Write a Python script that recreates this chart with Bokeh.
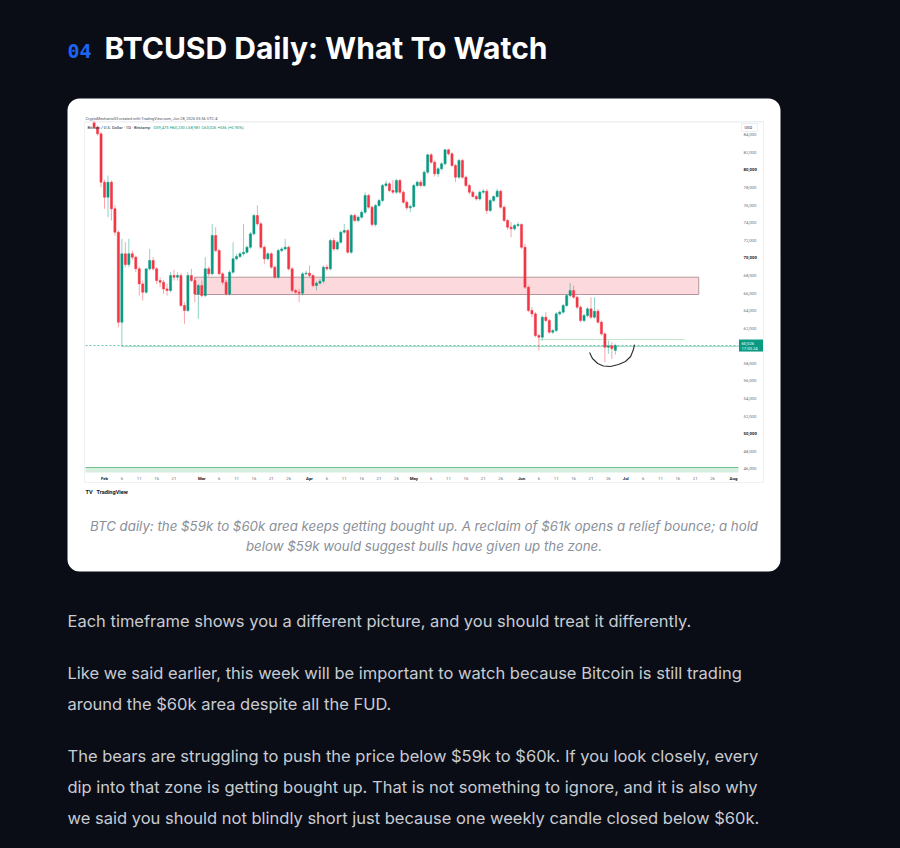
import pandas as pd
from bokeh.plotting import figure
from bokeh.models import Range1d, BoxAnnotation, ColumnDataSource
from bokeh.core.properties import value
from bokeh.embed import file_html
from bokeh.resources import INLINE

# ---------------- data ----------------
first_date = "2026-01-29"
open_ = [85440, 84870, 84110, 78610, 76900, 78610, 75580, 72920, 62680, 70460,
         69240, 70460, 70080, 68750, 67040, 66090, 68750, 69700, 68750, 67420,
         67230, 66470, 66280, 67990, 67800, 67990, 64580, 64010, 67990, 67420,
         65900, 66850, 65710, 68750, 68180, 72540, 70830, 68180, 67230, 65900,
         68370, 69890, 70150, 70460, 70640, 71210, 72730, 74820, 73870, 71210,
         69890, 70460, 68940, 67800, 70830, 71020, 71210, 68750, 66280, 66090,
         65980, 68180, 68260, 67990, 66850, 67120, 67340, 68940, 68750, 71970,
         71020, 71780, 72920, 73110, 70640, 74820, 74250, 74630, 75200, 77090,
         75770, 73790, 75960, 76520, 78230, 78420, 77660, 77470, 78800, 77470,
         76330, 75690, 75840, 78230, 78610, 78230, 79750, 81720, 80890, 79560,
         80130, 80700, 82290, 81830, 80510, 79180, 81080, 79180, 78230, 77470,
         76980, 76710, 77470, 77590, 75390, 76520, 76980, 77590, 75770, 74250,
         73490, 73300, 73680, 73790, 71210, 66660, 64010, 63630, 61160, 60970,
         63250, 62870, 61540, 61730, 63630, 63820, 64580, 65710, 66280, 65520,
         64390, 62870, 63440, 64200, 63250, 63930, 62680, 61350, 59830, 59990,
         59475]
high = [85630, 85060, 84300, 78880, 79370, 78800, 75960, 73110, 72160, 71780,
        72160, 70830, 70270, 69010, 67420, 66470, 71020, 70080, 68940, 67800,
        67500, 67040, 68370, 68640, 68370, 68260, 64960, 68370, 68750, 67800,
        67040, 67420, 70080, 69010, 73870, 73490, 71020, 68370, 67500, 68560,
        71780, 70460, 70640, 73870, 71400, 72920, 75010, 75960, 74060, 71400,
        70640, 70640, 69130, 71020, 71210, 72160, 71400, 68940, 66470, 66470,
        68370, 68560, 69130, 68180, 67340, 67610, 69130, 69240, 72160, 72280,
        71970, 73110, 73870, 73300, 75010, 75010, 74820, 75390, 77470, 77280,
        75960, 76140, 76710, 78420, 78800, 78610, 78880, 78990, 78990, 77660,
        76520, 76070, 78420, 78800, 78880, 79940, 81830, 81910, 81080, 80320,
        80890, 82400, 82400, 82030, 80700, 81260, 81260, 79370, 78420, 77660,
        77210, 77660, 77850, 77850, 76710, 77090, 77850, 77740, 75960, 74440,
        74060, 73870, 74060, 73940, 71590, 66850, 64390, 63820, 61350, 63440,
        63820, 63060, 61920, 63820, 64010, 64770, 65900, 67120, 66850, 65710,
        64580, 63630, 64390, 65520, 65520, 64200, 62870, 61540, 60590, 60400,
        60230]
low = [84790, 83920, 78040, 75580, 74630, 74250, 72540, 62110, 59910, 68940,
       68940, 69770, 68370, 65710, 65140, 65900, 68560, 68560, 67040, 66660,
       65900, 65710, 66090, 67420, 67420, 64390, 62490, 63820, 67230, 64960,
       63060, 65520, 65520, 67880, 67990, 70640, 67990, 66970, 65710, 65710,
       68180, 69700, 70000, 70270, 70460, 71020, 72540, 73680, 71020, 69320,
       69700, 68750, 67610, 67610, 70640, 70830, 68560, 66090, 65900, 64960,
       65710, 67990, 67800, 66660, 66280, 66970, 67120, 68560, 68560, 70760,
       70830, 71590, 72730, 70460, 70460, 74060, 74060, 74440, 75010, 75580,
       73570, 73570, 75770, 76330, 78040, 77470, 77280, 77280, 77280, 76140,
       75460, 75200, 75690, 78040, 78040, 78040, 79560, 80700, 79250, 79180,
       79940, 80510, 81640, 80320, 78610, 78990, 78990, 78040, 77210, 76830,
       76520, 76520, 77280, 75010, 75200, 76330, 76830, 75580, 74060, 73190,
       72350, 73110, 73490, 71020, 66470, 63820, 63250, 60970, 59450, 60590,
       62680, 61350, 61350, 61540, 63440, 63630, 64390, 65520, 65330, 64200,
       62680, 62680, 63250, 63060, 63060, 62490, 61160, 58130, 59080, 58510,
       58981]
close = [84870, 84110, 78610, 76900, 78610, 75580, 72920, 62680, 70460, 69240,
         70460, 70080, 68750, 67040, 66090, 68750, 69700, 68750, 67420, 67230,
         66470, 66280, 67990, 67800, 67990, 64580, 64010, 67990, 67420, 65900,
         66850, 65710, 68750, 68180, 72540, 70830, 68180, 67230, 65900, 68370,
         69890, 70150, 70460, 70640, 71210, 72730, 74820, 73870, 71210, 69890,
         70460, 68940, 67800, 70830, 71020, 71210, 68750, 66280, 66090, 65980,
         68180, 68260, 67990, 66850, 67120, 67340, 68940, 68750, 71970, 71020,
         71780, 72920, 73110, 70640, 74820, 74250, 74630, 75200, 77090, 75770,
         73790, 75960, 76520, 78230, 78420, 77660, 77470, 78800, 77470, 76330,
         75690, 75840, 78230, 78610, 78230, 79750, 81720, 80890, 79560, 80130,
         80700, 82290, 81830, 80510, 79180, 81080, 79180, 78230, 77470, 76980,
         76710, 77470, 77590, 75390, 76520, 76980, 77590, 75770, 74250, 73490,
         73300, 73680, 73790, 71210, 66660, 64010, 63630, 61160, 60970, 63250,
         62870, 61540, 61730, 63630, 63820, 64580, 65710, 66280, 65520, 64390,
         62870, 63440, 64200, 63250, 63930, 62680, 61350, 59830, 59990, 59680,
         60026]

zone_low, zone_high = 65830, 67800
zone_start, zone_end = "2026-02-27", "2026-07-22"
last_price = 60026
ray_level, ray_start = 59910, "2026-02-06"
level_line_price, level_line_start, level_line_end = 60710, "2026-06-06", "2026-07-18"

curve_times = ["2026-06-20 14:00", "2026-06-21 10:00", "2026-06-22 22:00", "2026-06-24 14:00",
               "2026-06-26 14:00", "2026-06-28 22:00", "2026-06-30 22:00", "2026-07-02 10:00",
               "2026-07-03 05:00", "2026-07-03 12:00"]
curve_prices = [59230, 58550, 57980, 57700, 57640, 57870, 58210, 58780, 59570, 60140]

price_ticks = [84000, 82000, 80000, 78000, 76000, 74000, 72000, 70000, 68000, 66000,
               64000, 62000, 58000, 56000, 54000, 52000, 50000, 48000, 46000]
date_ticks = ["2026-02-01", "2026-02-06", "2026-02-11", "2026-02-16", "2026-02-21",
              "2026-03-01", "2026-03-06", "2026-03-11", "2026-03-16", "2026-03-21", "2026-03-26",
              "2026-04-01", "2026-04-06", "2026-04-11", "2026-04-16", "2026-04-21", "2026-04-26",
              "2026-05-01", "2026-05-06", "2026-05-11", "2026-05-16", "2026-05-21", "2026-05-26",
              "2026-06-01", "2026-06-06", "2026-06-11", "2026-06-16", "2026-06-21", "2026-06-26",
              "2026-07-01", "2026-07-06", "2026-07-11", "2026-07-16", "2026-07-21", "2026-07-26",
              "2026-08-01"]
date_labels = ["Feb", "6", "11", "16", "21", "Mar", "6", "11", "16", "21", "26",
               "Apr", "6", "11", "16", "21", "26", "May", "6", "11", "16", "21", "26",
               "Jun", "6", "11", "16", "21", "26", "Jul", "6", "11", "16", "21", "26", "Aug"]

heading_num = "04"
heading = "BTCUSD Daily: What To Watch"
caption = ["BTC daily: the $59k to $60k area keeps getting bought up. A reclaim of $61k opens a relief bounce; a hold",
           "below $59k would suggest bulls have given up the zone."]
paragraphs = ["Each timeframe shows you a different picture, and you should treat it differently.",
              "Like we said earlier, this week will be important to watch because Bitcoin is still trading",
              "around the $60k area despite all the FUD.",
              "The bears are struggling to push the price below $59k to $60k. If you look closely, every",
              "dip into that zone is getting bought up. That is not something to ignore, and it is also why",
              "we said you should not blindly short just because one weekly candle closed below $60k."]
tv_header = "CryptoMechanic03 created with TradingView.com, Jun 28, 2026 03:56 UTC-4"
tv_symbol = "Bitcoin / U.S. Dollar · 1D · Bitstamp"
tv_ohlc = "O59,475  H60,230  L58,981  C60,026  +536 (+0.90%)"

# ---------------- layout constants (page pixels) ----------------
W, H = 900, 848
BG = "#0a0d16"
UP, DOWN = "#089981", "#f23645"
DAY_MS = 86400000.0
FEB1_X, DAY_PX = 104.0, 3.475          # x of Feb 1 candle, pixels per day
REF_Y, REF_P, PX_PER_USD = 134.3, 84000.0, 0.00879
PLOT_L, PLOT_R = 85, 738

def ms(s):
    return pd.Timestamp(s).value / 1e6

feb1 = ms("2026-02-01")
x_date_range = Range1d(feb1 - FEB1_X / DAY_PX * DAY_MS, feb1 + (W - FEB1_X) / DAY_PX * DAY_MS)
def price_at(y):
    return REF_P - (y - REF_Y) / PX_PER_USD
y_price_range = Range1d(price_at(H), price_at(0))

p = figure(width=W, height=H, x_range=Range1d(0, W), y_range=Range1d(H, 0),
           x_axis_type=None, y_axis_type=None, toolbar_location=None,
           output_backend="svg", min_border=0, outline_line_color=None,
           background_fill_color=BG, border_fill_color=BG)
p.extra_x_ranges = {"date": x_date_range}
p.extra_y_ranges = {"price": y_price_range}

# card
p.add_layout(BoxAnnotation(left=67, right=780, top=98, bottom=571, fill_color="white",
                           fill_alpha=1, line_color=None, border_radius=12, level="underlay"))

# chart frame lines
p.quad(left=[84], right=[763], top=[121], bottom=[482], fill_color=None,
       line_color="#f0f1f4", line_width=1)

# zone rectangle
p.quad(left=[ms(zone_start)], right=[ms(zone_end)], top=[zone_high], bottom=[zone_low],
       x_range_name="date", y_range_name="price", fill_color="#f7a1ab", fill_alpha=0.4,
       line_color="#b3979b", line_width=1)

# horizontal ray from the February low, and level line
p.segment(x0=[ms(ray_start)], x1=[x_date_range.start + PLOT_R / DAY_PX * DAY_MS],
          y0=[ray_level], y1=[ray_level], x_range_name="date", y_range_name="price",
          line_color="#a9dcc4", line_width=1)
p.segment(x0=[ms(level_line_start)], x1=[ms(level_line_end)], y0=[level_line_price],
          y1=[level_line_price], x_range_name="date", y_range_name="price",
          line_color="#c2e8cf", line_width=1)

# current price dashed line
p.segment(x0=[PLOT_L], x1=[PLOT_R], y0=[last_price], y1=[last_price], y_range_name="price",
          line_color=UP, line_alpha=0.6, line_width=1, line_dash="2 2")

# candles
dates = pd.date_range(first_date, periods=len(close), freq="D")
xs = [d.value / 1e6 for d in dates]
colors = [UP if c >= o else DOWN for o, c in zip(open_, close)]
src = ColumnDataSource(dict(x=xs, o=open_, h=high, l=low, c=close,
                            top=[max(o, c) for o, c in zip(open_, close)],
                            bot=[min(o, c) for o, c in zip(open_, close)], color=colors))
p.segment(x0="x", x1="x", y0="l", y1="h", source=src, x_range_name="date", y_range_name="price",
          line_color="color", line_alpha=0.45, line_width=1)
p.vbar(x="x", width=DAY_MS * 0.62, top="top", bottom="bot", source=src, x_range_name="date",
       y_range_name="price", fill_color="color", line_color="color", line_width=0.5)

# hand-drawn curve
p.line(x=[ms(t) for t in curve_times], y=curve_prices, x_range_name="date", y_range_name="price",
       line_color="#2b2b2b", line_width=1.1)

# bottom indicator band
p.quad(left=[PLOT_L], right=[PLOT_R], top=[467], bottom=[472], fill_color="#d6eedd",
       line_color=None)
p.segment(x0=[PLOT_L], x1=[PLOT_R], y0=[467], y1=[467], line_color="#6fbf8e", line_width=1)

# price scale labels
tick_txt = [f"{t:,}" for t in price_ticks]
major = [t % 10000 == 0 for t in price_ticks]
p.text(x=[743] * sum(not m for m in major), y=[t for t, m in zip(price_ticks, major) if not m],
       text=[s for s, m in zip(tick_txt, major) if not m], y_range_name="price",
       text_font=value("Roboto"), text_font_size="4.3px", text_color="#6a6d78",
       text_baseline="middle", text_align="left")
p.text(x=[743] * sum(major), y=[t for t, m in zip(price_ticks, major) if m],
       text=[s for s, m in zip(tick_txt, major) if m], y_range_name="price",
       text_font=value("Roboto"), text_font_size="4.3px", text_color="#131722",
       text_font_style="bold", text_baseline="middle", text_align="left")
p.quad(left=[741], right=[757], top=[123], bottom=[131], fill_color="white",
       line_color="#e0e3eb", line_width=0.6)
p.text(x=[744], y=[127], text=["USD"], text_font=value("Roboto"), text_font_size="4px",
       text_color="#131722", text_baseline="middle")

# last price label
p.rect(x=[750.5], y=[last_price], width=24, height=12, height_units="screen",
       y_range_name="price", fill_color=UP, line_color=None)
p.text(x=[741, 741], y=[last_price, last_price], y_offset=[-2.5, 3],
       text=[f"{last_price:,}", "17:03:24"], y_range_name="price",
       text_font=value("Roboto"), text_font_size="4.2px", text_color="white",
       text_baseline="middle")

# time axis labels
month = [not l.isdigit() for l in date_labels]
p.text(x=[ms(d) for d, m in zip(date_ticks, month) if not m], y=[478] * sum(not m for m in month),
       text=[l for l, m in zip(date_labels, month) if not m], x_range_name="date",
       text_font=value("Roboto"), text_font_size="4.3px", text_color="#6a6d78",
       text_baseline="middle", text_align="center")
p.text(x=[ms(d) for d, m in zip(date_ticks, month) if m], y=[478] * sum(month),
       text=[l for l, m in zip(date_labels, month) if m], x_range_name="date",
       text_font=value("Roboto"), text_font_size="4.3px", text_color="#131722",
       text_font_style="bold", text_baseline="middle", text_align="center")

# TradingView header texts
p.text(x=[85], y=[118], text=[tv_header], text_font=value("Roboto"), text_font_size="3.9px",
       text_color="#50535e", text_baseline="middle")
p.segment(x0=[84], x1=[763], y0=[121.5], y1=[121.5], line_color="#eceef2", line_width=1)
p.text(x=[87], y=[127], text=[tv_symbol], text_font=value("Roboto"), text_font_size="4.1px",
       text_color="#131722", text_baseline="middle")
p.text(x=[153], y=[127], text=[tv_ohlc], text_font=value("Roboto"), text_font_size="4.1px",
       text_color=UP, text_baseline="middle")
p.text(x=[85, 96], y=[491, 491], text=["TV", "TradingView"], text_font=value("Roboto"),
       text_font_size="5.6px", text_font_style="bold", text_color="#131722", text_baseline="middle")

# heading
p.text(x=[67], y=[50], text=[heading_num], text_font=value("DejaVu Sans Mono"),
       text_font_size="20px", text_font_style="bold", text_color="#1d64f2",
       text_baseline="middle")
p.text(x=[104], y=[47], text=[heading], text_font=value("Inter"), text_font_size="30px",
       text_font_style="bold", text_color="#ffffff", text_baseline="middle")

# caption
p.text(x=[423.5, 423.5], y=[525, 545], text=caption, text_font=value("Inter"),
       text_font_size="13.3px", text_font_style="italic", text_color="#8b9099",
       text_baseline="middle", text_align="center")

# paragraphs
p.text(x=[67] * len(paragraphs), y=[620, 672, 703, 755, 786, 817], text=paragraphs,
       text_font=value("Inter"), text_font_size="16.5px", text_color="#c8cbd1",
       text_baseline="middle", text_align="left")

style = f"<style>html,body{{background:{BG};margin:0;padding:0;overflow:hidden;}}</style>"
html = file_html(p, INLINE).replace("</head>", style + "</head>", 1)
open("out.html", "w").write(html)
